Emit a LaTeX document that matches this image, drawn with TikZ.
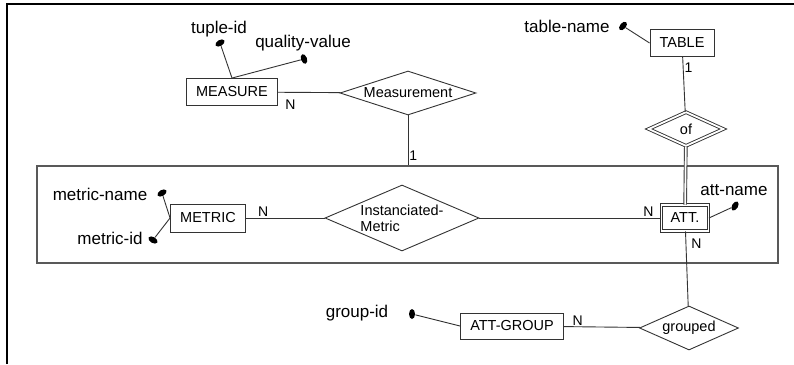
\documentclass[tikz,border=0pt]{standalone}
\usepackage{fontspec}
\setmainfont{Liberation Sans}
\usetikzlibrary{shapes.geometric,positioning}

\begin{document}
\begin{tikzpicture}[x=1pt,y=-1pt,line width=0.9pt,color=black!80,text=black,
    entity/.style={draw,rectangle,inner sep=0pt,minimum height=27pt,
      font=\fontsize{14.5}{16}\selectfont},
    weakentity/.style={entity,double,double distance=1.8pt},
    rel/.style={draw,diamond,inner sep=0pt,font=\fontsize{14.5}{16}\selectfont},
    weakrel/.style={rel,double,double distance=1.8pt},
    aggbox/.style={draw=black!65,line width=1.3pt,rectangle,inner sep=0pt},
    attr/.style={inner sep=0pt,font=\fontsize{17}{19}\selectfont},
    keydot/.style={ellipse,fill=black,draw=none,inner sep=0pt,
      minimum width=10pt,minimum height=6pt},
    card/.style={inner sep=1pt,font=\fontsize{14}{16}\selectfont}]
    \useasboundingbox (0,0) rectangle (794,364);
    \draw[black,line width=1.4pt] (7,364) -- (7,4) -- (794,4);

    % entities and relationships
    \node[entity,minimum width=91pt]  (measure)     at (232,92)  {MEASURE};
    \node[rel,minimum width=136pt,minimum height=44pt,shape aspect=3.1,
          inner xsep=-3pt]            (measurement) at (408,93)  {Measurement};
    \node[entity,minimum width=64pt]  (table)       at (682,43)  {TABLE};
    \node[weakrel,minimum width=75pt,minimum height=34pt,
          shape aspect=2.17]          (of)          at (686,129) {of};
    \node[aggbox,minimum width=741pt,minimum height=97pt]
                                      (aggregate)   at (407.5,214.5) {};
    \node[entity,minimum width=75pt,minimum height=28pt]
                                      (metric)      at (208,218) {METRIC};
    \node[rel,minimum width=154pt,minimum height=66pt,shape aspect=2.33,
          align=left]                 (instmetric)  at (402,218) {Instanciated-\\Metric};
    \node[weakentity,minimum width=47pt,minimum height=26pt]
                                      (att)         at (685,218) {ATT.};
    \node[entity,minimum width=103pt,minimum height=26pt]
                                      (attgroup)    at (512,326) {ATT-GROUP};
    \node[rel,minimum width=99pt,minimum height=44pt,shape aspect=2.25]
                                      (grouped)     at (689,328) {grouped};

    % attributes
    \node[attr] (tupleid)     at (219,29)  {tuple-id};
    \node[attr] (quality)     at (303,43)  {quality-value};
    \node[attr] (tablename)   at (567,26)  {table-name};
    \node[attr] (metricname)  at (100,194) {metric-name};
    \node[attr] (metricid)    at (110,238) {metric-id};
    \node[attr] (attname)     at (734,190) {att-name};
    \node[attr] (groupid)     at (357,313) {group-id};
    \node[keydot,rotate=30]  (tupleiddot)    at (220,43)  {};
    \node[keydot,rotate=110] (qualitydot)    at (304,59)  {};
    \node[keydot,rotate=50]  (tablenamedot)  at (623,26)  {};
    \node[keydot,rotate=30]  (metricnamedot) at (162,193) {};
    \node[keydot,rotate=-30] (metriciddot)   at (153,240) {};
    \node[keydot,rotate=60]  (attnamedot)    at (735,206) {};
    \node[keydot,rotate=90]  (groupiddot)    at (412,314) {};

    \path
        (tupleiddot)    edge (measure.north)
        (qualitydot)    edge (measure.north)
        (measure)       edge node[card,pos=0.2,below=6pt] {N} (measurement)
        (measurement.south) edge node[card,pos=0.8,right] {1}
                             (measurement.south |- aggregate.north)
        (tablenamedot)  edge (table.west)
        (table)         edge node[card,pos=0.2,right] {1} (of)
        (of)            edge[double,double distance=1.8pt] (att)
        (metricnamedot) edge (metric.west)
        (metriciddot)   edge (metric.west)
        (metric)        edge node[card,pos=0.22,above] {N} (instmetric)
        (instmetric)    edge node[card,pos=0.93,above] {N} (att)
        (attnamedot)    edge (att.east)
        (att)           edge node[card,pos=0.17,right=4pt] {N} (grouped)
        (groupiddot)    edge (attgroup.west)
        (attgroup)      edge node[card,pos=0.18,above] {N} (grouped);
\end{tikzpicture}
\end{document}
